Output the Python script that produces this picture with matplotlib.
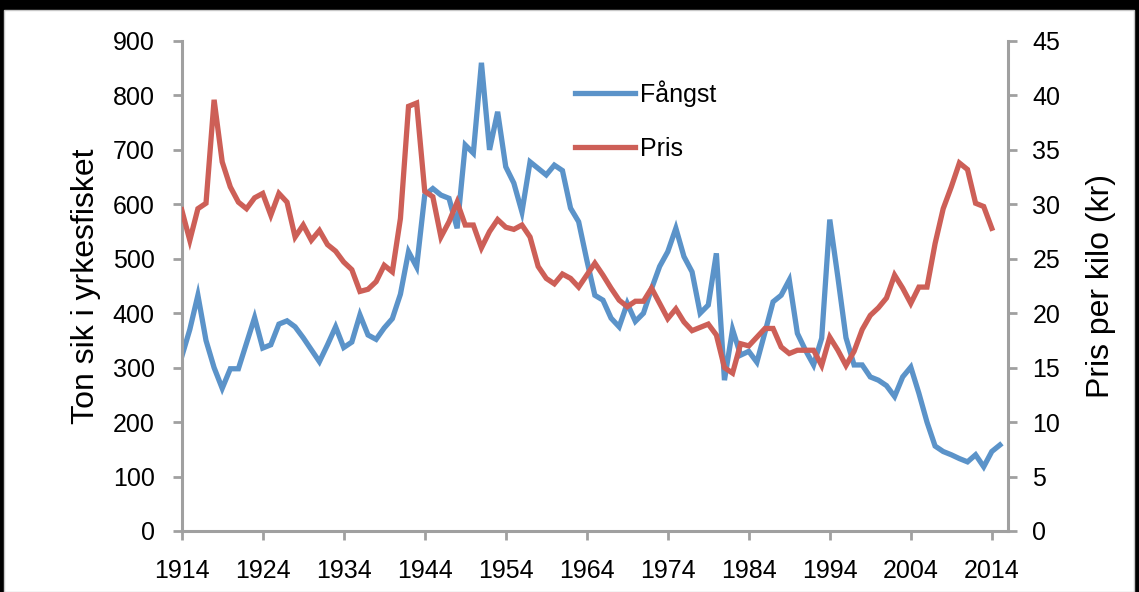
import numpy as np
import matplotlib.pyplot as plt
from matplotlib.patches import Rectangle

plt.rcParams['font.family'] = ['Liberation Sans', 'DejaVu Sans']

# yearly values
years_catch = list(range(1914, 2016))
fangst = [320, 370, 433, 350, 300, 262, 298, 298, 345, 392,
          336, 342, 380, 386, 375, 355, 333, 311, 342, 375,
          337, 347, 397, 360, 352, 373, 390, 435, 513, 485,
          617, 629, 617, 611, 556, 709, 694, 860, 700, 770,
          669, 639, 586, 678, 666, 654, 672, 662, 593, 568,
          498, 433, 424, 391, 375, 418, 385, 400, 445, 486,
          513, 556, 504, 476, 400, 415, 510, 277, 370, 323,
          330, 310, 365, 421, 433, 461, 363, 332, 305, 354,
          572, 466, 355, 305, 305, 283, 277, 267, 247, 283,
          301, 253, 200, 156, 146, 140, 133, 127, 140, 118,
          146, 158]

years_price = list(range(1914, 2015))
pris = [29.5, 26.7, 29.6, 30.1, 39.6, 33.9, 31.6, 30.2, 29.6, 30.6,
        31.0, 29.0, 31.0, 30.2, 27.0, 28.1, 26.7, 27.6, 26.3, 25.7,
        24.7, 24.0, 22.0, 22.2, 22.9, 24.4, 23.8, 28.7, 39.0, 39.3,
        31.2, 30.7, 27.0, 28.4, 30.2, 28.1, 28.1, 26.0, 27.5, 28.6,
        27.9, 27.7, 28.1, 27.0, 24.3, 23.2, 22.7, 23.6, 23.2, 22.4,
        23.5, 24.6, 23.5, 22.3, 21.2, 20.6, 21.1, 21.1, 22.3, 20.9,
        19.5, 20.4, 19.2, 18.4, 18.7, 19.0, 18.0, 15.0, 14.5, 17.2,
        17.0, 17.8, 18.6, 18.6, 16.9, 16.3, 16.6, 16.6, 16.6, 15.2,
        17.8, 16.6, 15.2, 16.5, 18.5, 19.8, 20.5, 21.4, 23.5, 22.3,
        20.9, 22.4, 22.4, 26.4, 29.6, 31.6, 33.8, 33.2, 30.1, 29.8,
        27.8]

xticks = list(range(1914, 2015, 10))

blue = '#5B93C9'
red = '#CD5F57'
grey = '#A0A0A0'

fig = plt.figure(figsize=(11.39, 5.92), dpi=100)
fig.patch.set_facecolor('black')
fig.patches.append(Rectangle((4 / 1139, 0), 1130 / 1139, 582 / 592,
                             transform=fig.transFigure, facecolor='white',
                             edgecolor='#C8C8C8', linewidth=1, zorder=-10))

ax = fig.add_axes([181.7 / 1139, 61 / 592, 826.3 / 1139, 490 / 592])
ax2 = ax.twinx()

l1, = ax.plot(years_catch, fangst, color=blue, lw=3.8, solid_joinstyle='miter', label='Fångst')
l2, = ax2.plot(years_price, pris, color=red, lw=3.8, solid_joinstyle='miter', label='Pris')

ax.set_xlim(1914, 2016)
ax.set_ylim(0, 900)
ax2.set_ylim(0, 45)
ax.set_xticks(xticks)
ax.set_yticks(range(0, 901, 100))
ax2.set_yticks(range(0, 46, 5))

for a in (ax, ax2):
    a.patch.set_visible(False)
    for s in a.spines.values():
        s.set_visible(False)
ax.spines['left'].set_visible(True)
ax.spines['bottom'].set_visible(True)
ax2.spines['right'].set_visible(True)
for s in (ax.spines['left'], ax.spines['bottom'], ax2.spines['right']):
    s.set_color(grey)
    s.set_linewidth(2.2)

ax.tick_params(axis='x', direction='out', length=6.5, width=2, color=grey,
               labelsize=18, pad=14)
ax.tick_params(axis='y', direction='out', length=6.5, width=2, color=grey,
               labelsize=18, pad=13)
ax2.tick_params(axis='y', direction='out', length=6.5, width=2, color=grey,
                labelsize=18, pad=11)

ax.set_ylabel('Ton sik i yrkesfisket', fontsize=23)
ax2.set_ylabel('Pris per kilo (kr)', fontsize=23)
ax.yaxis.set_label_coords(-0.098, 0.5)
ax2.yaxis.set_label_coords(1.095, 0.5)

ax.legend(handles=[l1, l2], loc='upper left', bbox_to_anchor=(0.476, 0.92),
          frameon=False, fontsize=18, handlelength=2.4, handletextpad=0.2,
          labelspacing=1.2, borderpad=0, borderaxespad=0)

fig.savefig('out.png', dpi=100, facecolor=fig.get_facecolor())
